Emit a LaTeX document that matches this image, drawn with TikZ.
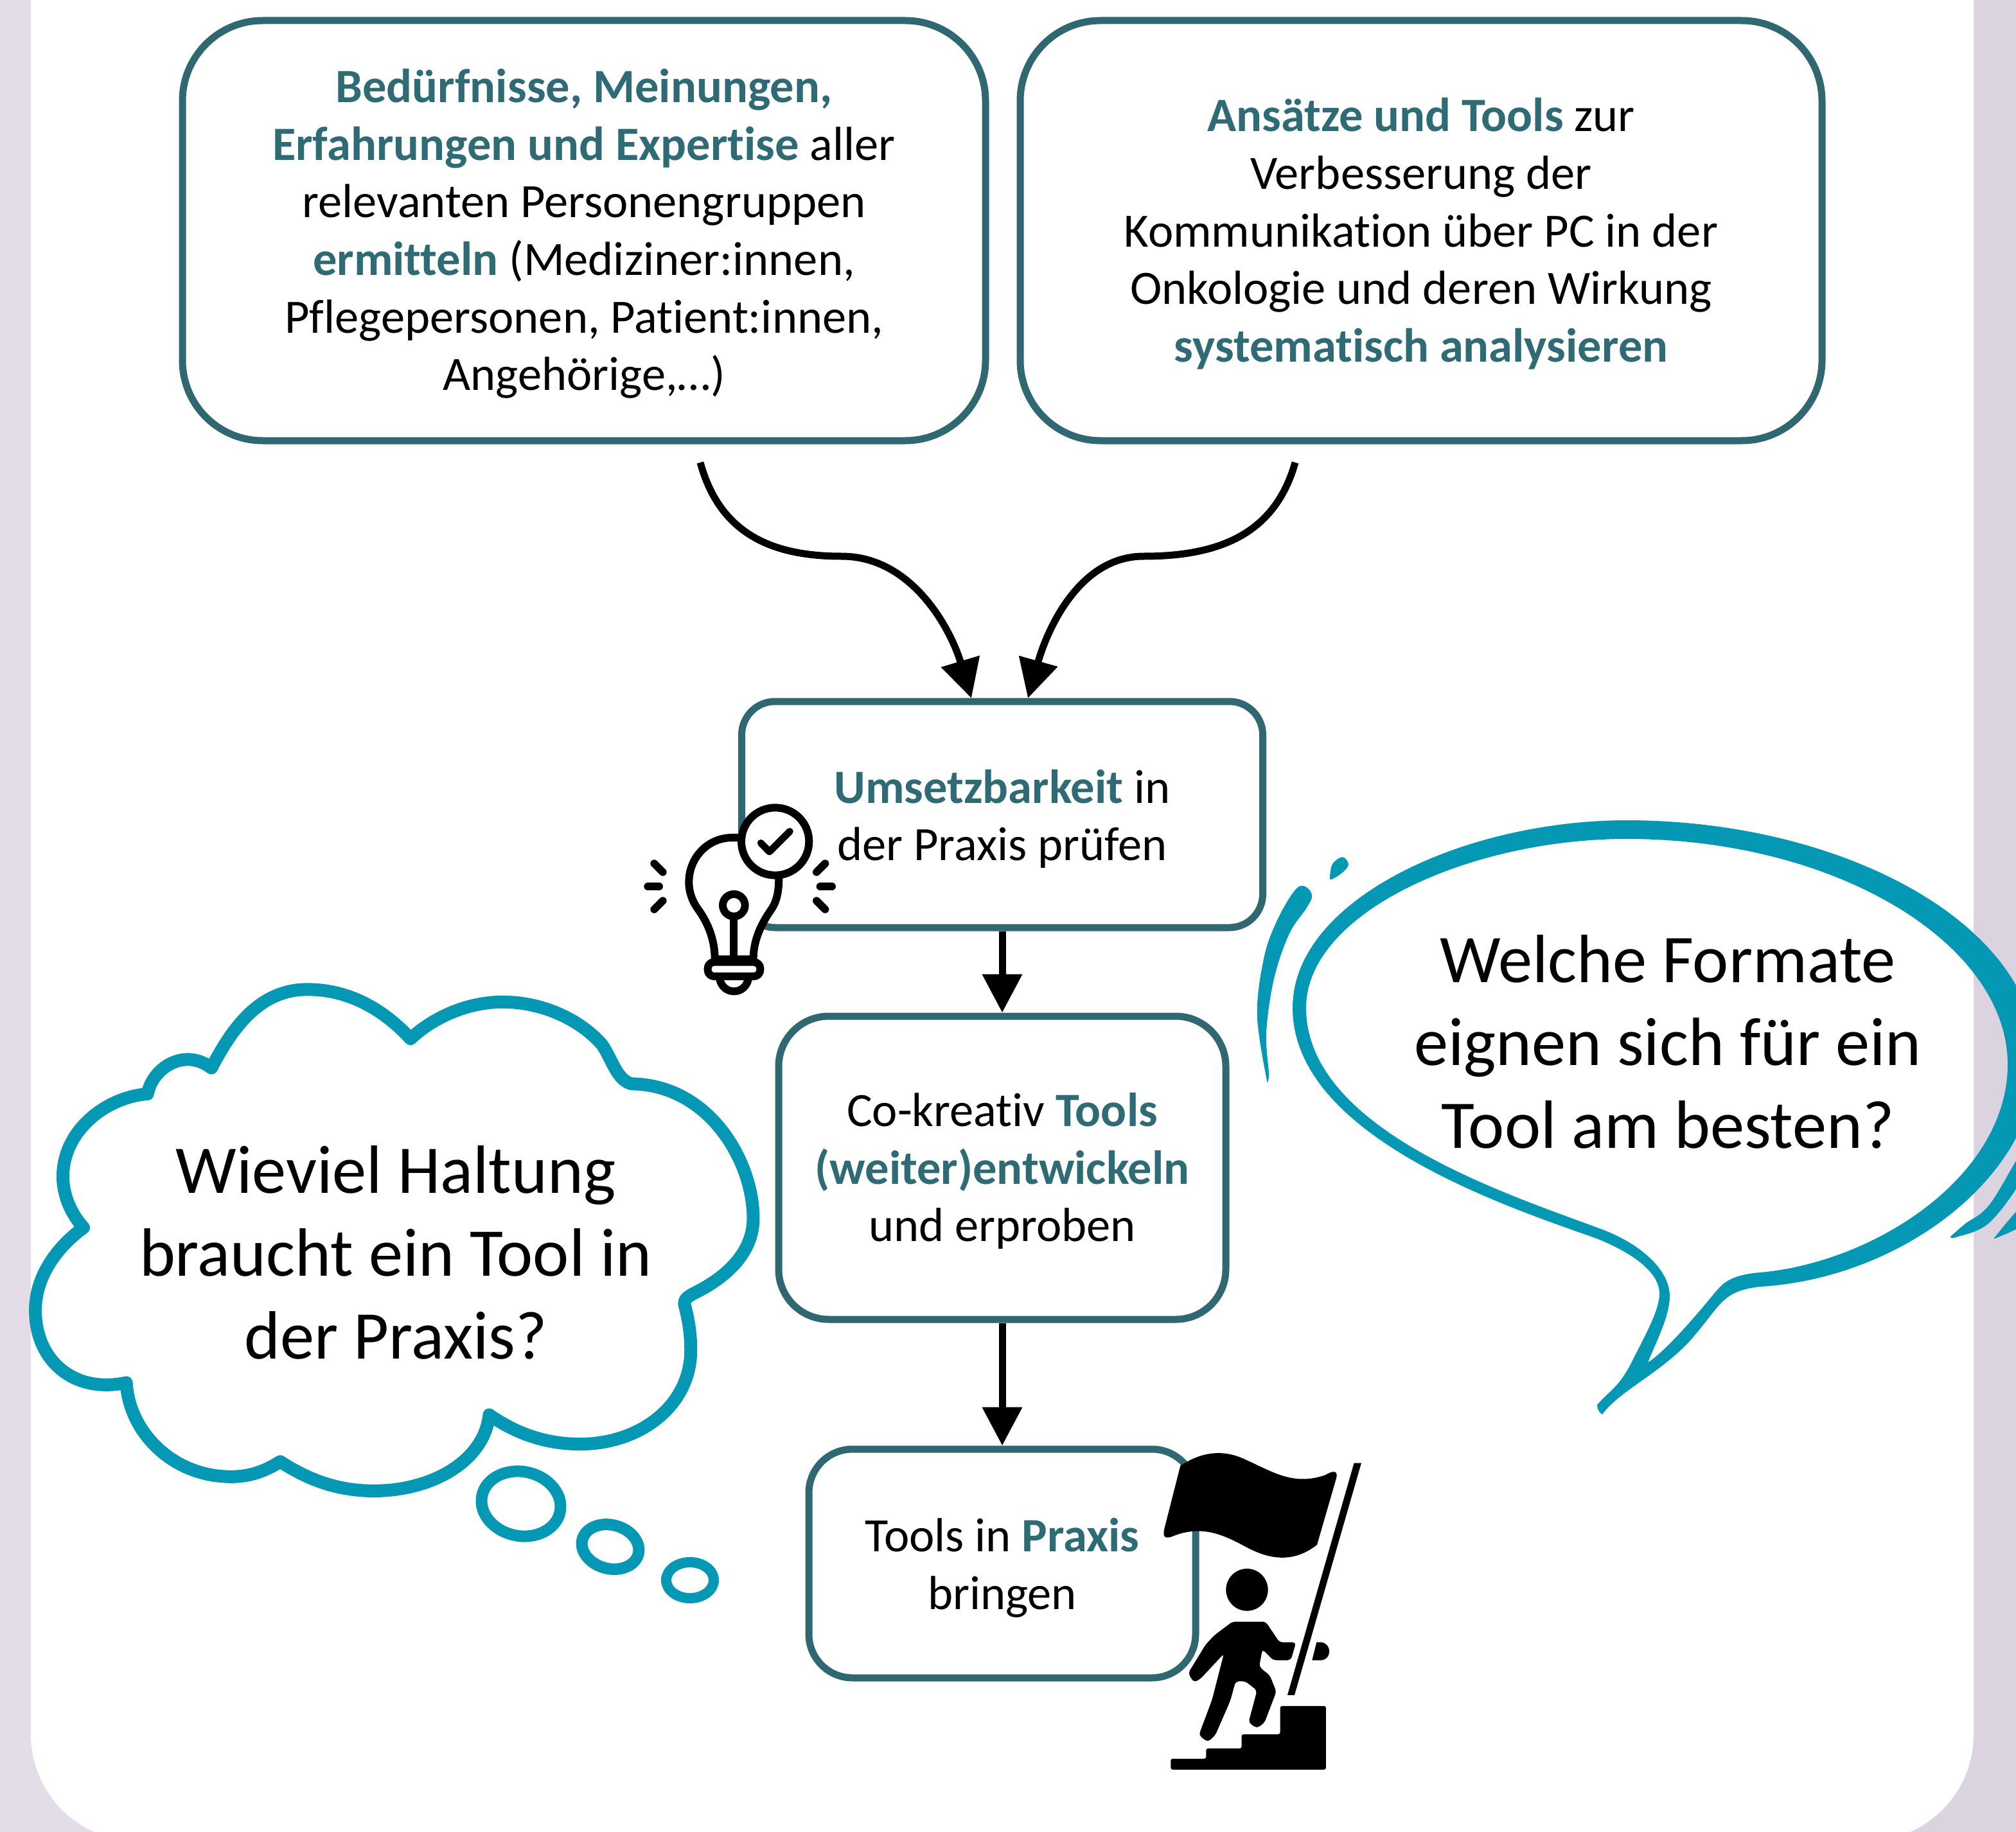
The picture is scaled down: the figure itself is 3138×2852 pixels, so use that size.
\documentclass[tikz,border=0pt]{standalone}
\usepackage{fontspec}
\setmainfont[Ligatures=NoCommon]{Carlito}
\usetikzlibrary{arrows.meta}
\definecolor{boxc}{HTML}{2F6870}
\definecolor{hlc}{HTML}{2F6B75}
\definecolor{bubc}{HTML}{0598B4}
\definecolor{bgl}{HTML}{E4DDE8}
\definecolor{bgr}{HTML}{DCD3E0}
\newcommand{\hl}[1]{\textbf{\textcolor{hlc}{#1}}}
\newcommand{\topsa}{\rule{0pt}{62pt}}
\newcommand{\topsb}{\rule{0pt}{66pt}}
\tikzset{
  stepbox/.style={draw=boxc,line width=11pt,fill=white,align=center,inner sep=0pt,
    font=\fontsize{74.5}{89.6}\selectfont},
  bigtext/.style={align=center,inner sep=0pt,font=\fontsize{106.4}{128.6}\selectfont},
  conn/.style={draw=black,line width=11pt,-{Triangle[length=60pt,width=60pt]}},
  cloudline/.style={draw=bubc,line width=20pt,line join=round,line cap=round},
  puff/.style={draw=bubc,line width=18pt},
  icon/.style={draw=black,line width=12pt,line cap=round,line join=round},
  smoothp/.style={smooth,tension=0.6},
}
\begin{document}
\begin{tikzpicture}[x=1pt,y=-1pt]
\useasboundingbox (0,0) rectangle (3138,2852);
\clip (0,0) rectangle (3138,2852);
% background and panel
\shade[left color=bgl,right color=bgr] (0,0) rectangle (3138,2852);
\fill[white] (48,-200) -- (48,2700) arc[start angle=180,end angle=90,x radius=166pt,y radius=-166pt] -- (2906,2866) arc[start angle=90,end angle=0,x radius=166pt,y radius=-166pt] -- (3072,-200) -- cycle;

% boxes
\node[stepbox,rounded corners=125pt,minimum width=1250pt,minimum height=654pt] (b1) at (909,359)
 {\topsa\hl{Bedürfnisse, Meinungen,}\\\hl{Erfahrungen und Expertise} aller\\relevanten Personengruppen\\\hl{ermitteln} (Mediziner:innen,\\Pflegepersonen, Patient:innen,\\Angehörige,\dots)};
\node[stepbox,rounded corners=125pt,minimum width=1248pt,minimum height=654pt] (b2) at (2212,359)
 {\topsa\hl{Ansätze und Tools} zur\\Verbesserung der\\Kommunikation über PC in der\\Onkologie und deren Wirkung\\\hl{systematisch analysieren}};
\node[stepbox,rounded corners=52pt,minimum width=811pt,minimum height=352pt] (b3) at (1560,1268)
 {\topsb\hl{Umsetzbarkeit} in\\der Praxis prüfen};
\node[stepbox,rounded corners=78pt,minimum width=696pt,minimum height=472pt] (b4) at (1560,1818)
 {\topsa Co-kreativ \hl{Tools}\\\hl{(weiter)entwickeln}\\und erproben};
\node[stepbox,rounded corners=68pt,minimum width=602pt,minimum height=356pt] (b5) at (1560,2434)
 {\topsb Tools in \hl{Praxis}\\bringen};

% connectors
\coordinate (s1) at (1090,720);
\coordinate (e1) at (1512,1087);
\coordinate (s2) at (2016,720);
\coordinate (e2) at (1600,1087);
\draw[conn] (s1) .. controls (1120,830) and (1200,866) .. (1310,866) .. controls (1420,866) and (1480,980) .. (e1);
\draw[conn] (s2) .. controls (1985,830) and (1900,866) .. (1780,866) .. controls (1680,866) and (1630,980) .. (e2);
\draw[conn] (b3.south) -- (b4.north);
\draw[conn] (b4.south) -- (b5.north);

% bulb icon
\begin{scope}[shift={(950,1200)},x=0.3333pt,y=-0.3333pt]
  \filldraw[icon,fill=white] (615,312) -- (570,312) .. controls (455,312) and (367,405) .. (367,520)
    .. controls (367,570) and (385,610) .. (405,640) .. controls (450,700) and (488,780) .. (488,880)
    -- (668,880) .. controls (668,790) and (705,715) .. (750,650) .. controls (775,615) and (787,570) .. (787,500) -- cycle;
  \filldraw[icon,fill=white] (770,330) circle[radius=158];
  \draw[line width=11pt,line cap=round,line join=round] (703,337) -- (743,378) -- (838,283);
  \draw[icon] (577,628) circle[radius=52];
  \draw[icon] (577,690) -- (577,890);
  \filldraw[icon,fill=white,rounded corners=10pt] (455,893) rectangle (700,960);
  \draw[icon] (510,970) .. controls (525,1050) and (630,1050) .. (645,970);
  \draw[icon] (205,433) -- (245,473) (175,540) -- (228,540) (205,647) -- (245,607)
              (1003,433) -- (963,473) (980,540) -- (1035,540) (1003,647) -- (963,607);
\end{scope}

% flag and climber icon
\begin{scope}[shift={(1780,2230)},x=0.3333pt,y=-0.357pt]
  \fill[black] (172,145) .. controls (270,85) and (370,70) .. (480,120)
     .. controls (600,170) and (700,235) .. (850,185) .. controls (885,165) and (910,165) .. (900,200)
     -- (810,490) .. controls (700,570) and (590,555) .. (480,500) .. controls (370,445) and (270,400) .. (130,455)
     .. controls (95,465) and (90,450) .. (97,420) -- cycle;
  \fill[black] (983,133) -- (1017,133) -- (705,1145) -- (672,1145) -- cycle;
  \fill[black] (483,686) ellipse[x radius=98,y radius=92];
  \fill[black,rounded corners=5pt] (415,825) -- (570,825) -- (635,915) -- (712,915) -- (688,993) -- (605,993) -- (555,945) -- (540,1022) -- (590,1060) -- (620,1130) -- (565,1265) -- (530,1290) -- (490,1265) -- (530,1125) -- (475,1085) -- (430,1085) -- (405,1170) -- (335,1320) -- (300,1350) -- (258,1320) -- (320,1165) -- (375,965) -- (265,1075) -- (235,1090) -- (208,1050) -- (290,925) -- (330,885) -- cycle;
  \fill[black] (808,915) -- (830,915) .. controls (880,920) and (880,990) .. (830,993) -- (787,993) -- cycle;
  \fill[black,rounded corners=3pt] (127,1423) -- (292,1423) -- (292,1378) -- (458,1378) -- (458,1316) -- (638,1316) -- (638,1193) -- (852,1193) -- (852,1470) -- (127,1470) -- cycle;
\end{scope}

% thought bubble
\begin{scope}[shift={(0,1500)},x=0.7653pt,y=-0.6505pt]
  \draw[cloudline]
    (835,180) .. controls (880,130) and (950,92) .. (1022,92)
    .. controls (1110,92) and (1185,140) .. (1225,195)
    .. controls (1245,230) and (1255,280) .. (1285,288)
    .. controls (1440,290) and (1532,470) .. (1532,610)
    .. controls (1532,690) and (1480,750) .. (1410,790)
    .. controls (1395,800) and (1392,805) .. (1392,815)
    .. controls (1400,850) and (1405,885) .. (1405,925)
    .. controls (1405,1060) and (1300,1150) .. (1180,1150)
    .. controls (1110,1150) and (1050,1125) .. (995,1080)
    .. controls (985,1190) and (880,1262) .. (760,1262)
    .. controls (680,1262) and (620,1230) .. (570,1192)
    .. controls (545,1210) and (515,1228) .. (470,1228)
    .. controls (350,1228) and (262,1120) .. (257,1003)
    .. controls (150,1030) and (72,950) .. (72,830)
    .. controls (72,740) and (125,670) .. (170,632)
    .. controls (145,600) and (128,555) .. (128,510)
    .. controls (128,400) and (215,320) .. (300,312)
    .. controls (310,250) and (375,200) .. (430,250)
    .. controls (470,160) and (525,62) .. (625,62)
    .. controls (710,62) and (780,110) .. (835,180) -- cycle;
\end{scope}
\draw[puff,rotate around={-12:(811,2341)}] (811,2341) ellipse[x radius=62,y radius=50];
\draw[puff,rotate around={-15:(950,2408)}] (950,2408) ellipse[x radius=45,y radius=34];
\draw[puff,line width=16pt] (1074,2460) ellipse[x radius=37,y radius=28];

% speech bubble
\fill[bubc,even odd rule]
  (2494,2202) .. controls (2488,2198) and (2486,2192) .. (2486,2187)
  .. controls (2505,2165) and (2520,2160) .. (2540,2120)
  .. controls (2560,2080) and (2583,2040) .. (2583,2014)
  .. controls (2583,1980) and (2540,1950) .. (2485,1928)
  .. controls (2350,1880) and (2012,1770) .. (2012,1569)
  .. controls (2012,1400) and (2280,1277) .. (2532,1277)
  .. controls (2870,1277) and (3170,1440) .. (3170,1650)
  .. controls (3170,1830) and (2960,1990) .. (2740,2003)
  .. controls (2680,2010) and (2680,2030) .. (2635,2082)
  .. controls (2590,2135) and (2520,2165) .. (2494,2202) -- cycle
  (2565,2121) .. controls (2575,2095) and (2599,2050) .. (2599,2018)
  .. controls (2599,1975) and (2550,1935) .. (2494,1914)
  .. controls (2350,1860) and (2033,1760) .. (2033,1569)
  .. controls (2033,1420) and (2290,1306) .. (2532,1306)
  .. controls (2860,1306) and (3125,1470) .. (3125,1657)
  .. controls (3125,1830) and (2920,1965) .. (2739,1981)
  .. controls (2690,1985) and (2680,2000) .. (2668,2014)
  .. controls (2630,2060) and (2590,2105) .. (2565,2121) -- cycle;
\begin{scope}[shift={(1900,1250)},x=0.7895pt,y=-0.638pt]
  \fill[bubc] plot[smoothp] coordinates {(92,682) (72,520) (85,380) (110,290) (145,215) (165,203) (180,225) (170,255) (135,320) (105,430) (90,560) (95,660) (92,682)} -- cycle;
  \fill[bubc] plot[smoothp] coordinates {(215,185) (220,150) (240,132) (252,150) (240,170) (220,186) (215,185)} -- cycle;
\end{scope}
\fill[bubc] plot[smoothp] coordinates {(3036,1925) (3059,1905) (3097,1875) (3150,1790) (3150,1830) (3097,1903) (3045,1926) (3036,1925)} -- cycle;
\fill[bubc] plot[smoothp] coordinates {(3105,1926) (3150,1875) (3150,1905) (3108,1927) (3105,1926)} -- cycle;

% bubble texts
\node[bigtext] (q1) at (616,1950) {Wieviel Haltung\\braucht ein Tool in\\der Praxis?};
\node[bigtext] (q2) at (2596,1622) {Welche Formate\\eignen sich für ein\\Tool am besten?};
\end{tikzpicture}
\end{document}
